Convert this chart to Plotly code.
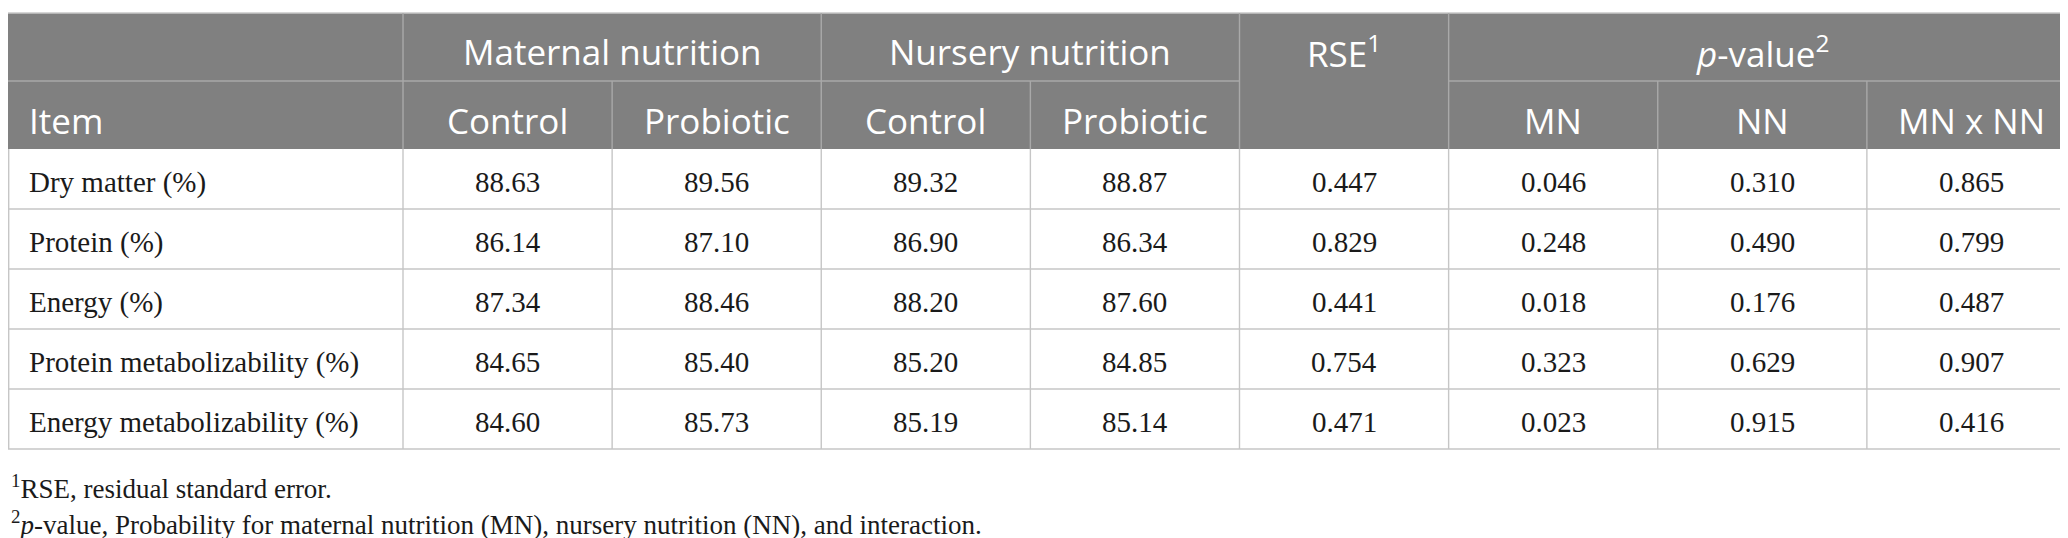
"""Digestibility / metabolizability table: maternal x nursery nutrition.

Rebuilt as a plotly figure: cells are shapes on a pixel-scaled axis pair,
text goes in as annotations.

    python plot.py
"""
import plotly.graph_objects as go

# --- data ---
ITEMS = ["Dry matter (%)", "Protein (%)", "Energy (%)",
         "Protein metabolizability (%)", "Energy metabolizability (%)"]
MN_CONTROL = [88.63, 86.14, 87.34, 84.65, 84.60]
MN_PROBIOTIC = [89.56, 87.10, 88.46, 85.40, 85.73]
NN_CONTROL = [89.32, 86.90, 88.20, 85.20, 85.19]
NN_PROBIOTIC = [88.87, 86.34, 87.60, 84.85, 85.14]
RSE = [0.447, 0.829, 0.441, 0.754, 0.471]
P_MN = [0.046, 0.248, 0.018, 0.323, 0.023]
P_NN = [0.310, 0.490, 0.176, 0.629, 0.915]
P_MNxNN = [0.865, 0.799, 0.487, 0.907, 0.416]

GROUPS = [("Maternal nutrition", 2), ("Nursery nutrition", 2),
          ("RSE<sup>1</sup>", 1), ("<i>p</i>-value<sup>2</sup>", 3)]
SUBHEADS = ["Control", "Probiotic", "Control", "Probiotic", "", "MN", "NN", "MN x NN"]
FOOTNOTES = ["<sup>1</sup>RSE, residual standard error.",
             "<sup>2</sup><i>p</i>-value, Probability for maternal nutrition (MN), "
             "nursery nutrition (NN), and interaction."]

COLUMNS = [(MN_CONTROL, 2), (MN_PROBIOTIC, 2), (NN_CONTROL, 2), (NN_PROBIOTIC, 2),
           (RSE, 3), (P_MN, 3), (P_NN, 3), (P_MNxNN, 3)]

# --- geometry (pixels) ---
W, H = 2068, 538
ITEM_W = 395
COL_W = (W - ITEM_W) / len(COLUMNS)
TOP = 5
HEAD_H = 68
ROW_H = 60
x_edges = [0, ITEM_W] + [ITEM_W + COL_W * (i + 1) for i in range(len(COLUMNS))]
head_mid = TOP + HEAD_H
head_bot = TOP + 2 * HEAD_H
row_edges = [head_bot + ROW_H * i for i in range(len(ITEMS) + 1)]
table_bot = row_edges[-1]

HEAD_BG = "#808080"
HEAD_LINE = "#a9a9a9"
BODY_LINE = "#c6c6c6"
HEAD_FONT = dict(family="Open Sans", size=35, color="white")
BODY_FONT = dict(family="Liberation Serif", size=29, color="#1a1a1a")

shapes = []
annotations = []


def hline(x0, x1, y, color):
    shapes.append(dict(type="line", xref="x", yref="y", x0=x0, x1=x1, y0=y, y1=y,
                       line=dict(color=color, width=1.4)))


def vline(x, y0, y1, color):
    shapes.append(dict(type="line", xref="x", yref="y", x0=x, x1=x, y0=y0, y1=y1,
                       line=dict(color=color, width=1.4)))


def text(x, y, s, font, anchor="center"):
    annotations.append(dict(x=x, y=y, xref="x", yref="y", text=s, showarrow=False,
                            xanchor=anchor, yanchor="middle", font=font))


# header block
shapes.append(dict(type="rect", xref="x", yref="y", x0=0, x1=W, y0=TOP, y1=head_bot,
                   fillcolor=HEAD_BG, line=dict(width=0), layer="below"))
hline(0, W, TOP, "#c8c8c8")

# group row
ci = 0
for label, span in GROUPS:
    x0, x1 = x_edges[ci + 1], x_edges[ci + 1 + span]
    text((x0 + x1) / 2, (TOP + head_mid) / 2 + 4, label, HEAD_FONT)
    if span > 1:
        hline(x0, x1, head_mid, HEAD_LINE)
        for k in range(1, span):
            vline(x_edges[ci + 1 + k], head_mid, head_bot, HEAD_LINE)
    vline(x0, TOP, head_bot, HEAD_LINE)
    ci += span
hline(0, ITEM_W, head_mid, HEAD_LINE)

# sub-header row
sub_y = (head_mid + head_bot) / 2 + 5
text(19, sub_y, "Item", HEAD_FONT, anchor="left")
for j, s in enumerate(SUBHEADS):
    if s:
        text((x_edges[j + 1] + x_edges[j + 2]) / 2, sub_y, s, HEAD_FONT)

# body
for i, item in enumerate(ITEMS):
    yc = (row_edges[i] + row_edges[i + 1]) / 2 + 3
    text(19, yc, item, BODY_FONT, anchor="left")
    for j, (vals, nd) in enumerate(COLUMNS):
        text((x_edges[j + 1] + x_edges[j + 2]) / 2, yc, f"{vals[i]:.{nd}f}", BODY_FONT)
    hline(0, W, row_edges[i + 1], BODY_LINE)
for x in x_edges[1:-1]:
    vline(x, head_bot, table_bot, BODY_LINE)
vline(0.7, head_bot, table_bot, BODY_LINE)
vline(W - 0.7, head_bot, table_bot, BODY_LINE)

# footnotes
for k, note in enumerate(FOOTNOTES):
    annotations.append(dict(x=1, y=table_bot + 38 + 36 * k, xref="x", yref="y", text=note,
                            showarrow=False, xanchor="left", yanchor="middle",
                            font=dict(family="Liberation Serif", size=27, color="#1a1a1a")))

fig = go.Figure()
fig.update_layout(
    width=W, height=H, margin=dict(l=0, r=0, t=0, b=0),
    paper_bgcolor="white", plot_bgcolor="white",
    xaxis=dict(range=[0, W], visible=False, fixedrange=True),
    yaxis=dict(range=[H, 0], visible=False, fixedrange=True),
    shapes=shapes, annotations=annotations, showlegend=False,
)
fig.write_html("out.html", config={"displayModeBar": False})
